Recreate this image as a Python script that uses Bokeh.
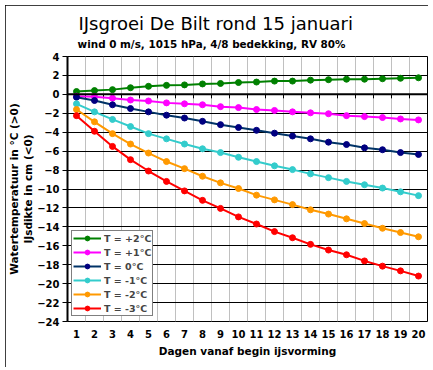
from bokeh.plotting import figure
from bokeh.models import (FixedTicker, Span, Legend, LegendItem, Title, InlineStyleSheet,
                          LinearAxis)
from bokeh.embed import file_html
from bokeh.resources import INLINE

# ---- data ----
days = list(range(1, 21))
y_ticks = list(range(-24, 5, 2))
series_labels = ["T = +2°C", "T = +1°C", "T = 0°C", "T = -1°C", "T = -2°C", "T = -3°C"]
t_plus2 = [0.3, 0.4, 0.5, 0.7, 0.85, 0.95, 1.0, 1.1, 1.15, 1.25, 1.3, 1.4, 1.4, 1.5, 1.55, 1.6, 1.6, 1.65, 1.7, 1.75]
t_plus1 = [-0.2, -0.25, -0.4, -0.6, -0.7, -0.9, -1.0, -1.1, -1.3, -1.4, -1.6, -1.7, -1.85, -1.95, -2.05, -2.25, -2.35, -2.45, -2.6, -2.7]
t_zero = [-0.3, -0.65, -1.1, -1.5, -1.85, -2.2, -2.5, -2.85, -3.2, -3.5, -3.8, -4.1, -4.4, -4.7, -5.05, -5.3, -5.65, -5.85, -6.15, -6.35]
t_min1 = [-1.0, -1.85, -2.65, -3.4, -4.15, -4.7, -5.25, -5.75, -6.15, -6.65, -7.1, -7.55, -7.95, -8.4, -8.8, -9.2, -9.55, -9.9, -10.3, -10.7]
t_min2 = [-1.6, -2.9, -4.15, -5.25, -6.2, -7.1, -7.85, -8.65, -9.35, -9.95, -10.65, -11.15, -11.65, -12.2, -12.65, -13.15, -13.65, -14.15, -14.6, -15.05]
t_min3 = [-2.25, -3.9, -5.5, -6.9, -8.1, -9.2, -10.2, -11.2, -12.05, -12.95, -13.7, -14.5, -15.15, -15.85, -16.45, -16.95, -17.6, -18.15, -18.65, -19.2]
series_values = [t_plus2, t_plus1, t_zero, t_min1, t_min2, t_min3]
line_colors = ["#008000", "#FF00FF", "#003366", "#33CCCC", "#FF9900", "#FF0000"]
marker_colors = ["#008000", "#FF00FF", "#000080", "#33CCCC", "#FF9900", "#FF0000"]

title_text = "IJsgroei De Bilt rond 15 januari"
subtitle_text = "wind 0 m/s, 1015 hPa, 4/8 bedekking, RV 80%"
xlabel_text = "Dagen vanaf begin ijsvorming"
ylabel1_text = "Watertemperatuur in °C (>0)"
ylabel2_text = "IJsdikte in cm (<0)"

FONT = "DejaVu Sans"

page_css = InlineStyleSheet(css=""":host {
  position: absolute !important; left: 5px !important; top: 5px !important;
  outline: 1px solid black; outline-offset: -1px;
}""")

p = figure(width=423, height=362, x_range=(0.5, 20.5), y_range=(-24, 4),
           output_backend="svg", toolbar_location=None, title=None,
           min_border_left=62, min_border_right=1, min_border_top=51, min_border_bottom=46,
           stylesheets=[page_css],
           background_fill_color="white", border_fill_color="white")

p.outline_line_color = "black"
p.outline_line_width = 1

# axes
p.yaxis.ticker = FixedTicker(ticks=y_ticks)
p.yaxis.axis_line_width = 2
p.yaxis.axis_line_color = "black"
p.yaxis.major_tick_out = 5
p.yaxis.major_tick_in = 0
p.yaxis.minor_tick_line_color = None
p.yaxis.major_label_standoff = 3
p.yaxis.axis_label = ylabel2_text
p.yaxis.axis_label_standoff = 0

p.xaxis.ticker = FixedTicker(ticks=days)
p.xaxis.axis_line_color = None
p.xaxis.major_tick_line_color = None
p.xaxis.minor_tick_line_color = None
p.xaxis.major_tick_out = 0
p.xaxis.major_label_standoff = 8
p.xaxis.axis_label = xlabel_text
p.xaxis.axis_label_standoff = 4

for ax in (p.xaxis, p.yaxis):
    ax.major_label_text_font = FONT
    ax.major_label_text_font_style = "bold"
    ax.major_label_text_font_size = "10px"
    ax.major_label_text_color = "black"
    ax.axis_label_text_font = FONT
    ax.axis_label_text_font_style = "bold"
    ax.axis_label_text_font_size = "10.5px"
    ax.axis_label_text_color = "black"

# subtitle: a tick-less axis above the plot whose single label is the subtitle
sub_pos = 8.5
sub_axis = LinearAxis(ticker=FixedTicker(ticks=[sub_pos]),
                      major_label_overrides={sub_pos: subtitle_text},
                      axis_line_color=None, major_tick_line_color=None,
                      minor_tick_line_color=None, major_tick_out=0, major_tick_in=0,
                      minor_tick_out=0, minor_tick_in=0, major_label_standoff=7,
                      major_label_text_font=FONT, major_label_text_font_style="bold",
                      major_label_text_font_size="10.4px", major_label_text_color="black")
p.add_layout(sub_axis, "above")

# grids
p.ygrid.ticker = FixedTicker(ticks=y_ticks)
p.ygrid.grid_line_color = "black"
p.ygrid.grid_line_width = 1
bounds = [d - 0.5 for d in days] + [days[-1] + 0.5]
p.xgrid.ticker = FixedTicker(ticks=bounds)
p.xgrid.grid_line_color = "#C0C0C0"
p.xgrid.grid_line_width = 1

# category axis crossing at 0
p.add_layout(Span(location=0, dimension="width", line_color="black", line_width=2))
p.segment(x0=bounds, y0=[0] * len(bounds), x1=bounds, y1=[-0.42] * len(bounds),
          line_color="black", line_width=1)

items = []
for name, vals, lc, mc in zip(series_labels, series_values, line_colors, marker_colors):
    ln = p.line(days, vals, line_color=lc, line_width=2)
    sc = p.scatter(days, vals, marker="circle", size=6, fill_color=mc, line_color=mc, line_width=1)
    items.append(LegendItem(label=name, renderers=[ln, sc]))

legend = Legend(items=items, location=(4, 5), margin=0, padding=1, spacing=2,
                glyph_width=28, glyph_height=12, label_height=12, label_standoff=3,
                label_text_font=FONT, label_text_font_style="bold", label_text_font_size="9.5px",
                border_line_color="black", border_line_width=1,
                background_fill_color="white", background_fill_alpha=1.0)
p.add_layout(legend)

# titles
p.add_layout(Title(text=title_text, align="left", offset=11, standoff=2,
                   text_font=FONT, text_font_size="18px", text_font_style="normal",
                   text_color="black"), "above")
p.add_layout(Title(text=ylabel1_text, align="center", standoff=0,
                   text_font=FONT, text_font_size="10.5px", text_font_style="bold",
                   text_color="black"), "left")

open("out.html", "w").write(file_html(p, INLINE))
